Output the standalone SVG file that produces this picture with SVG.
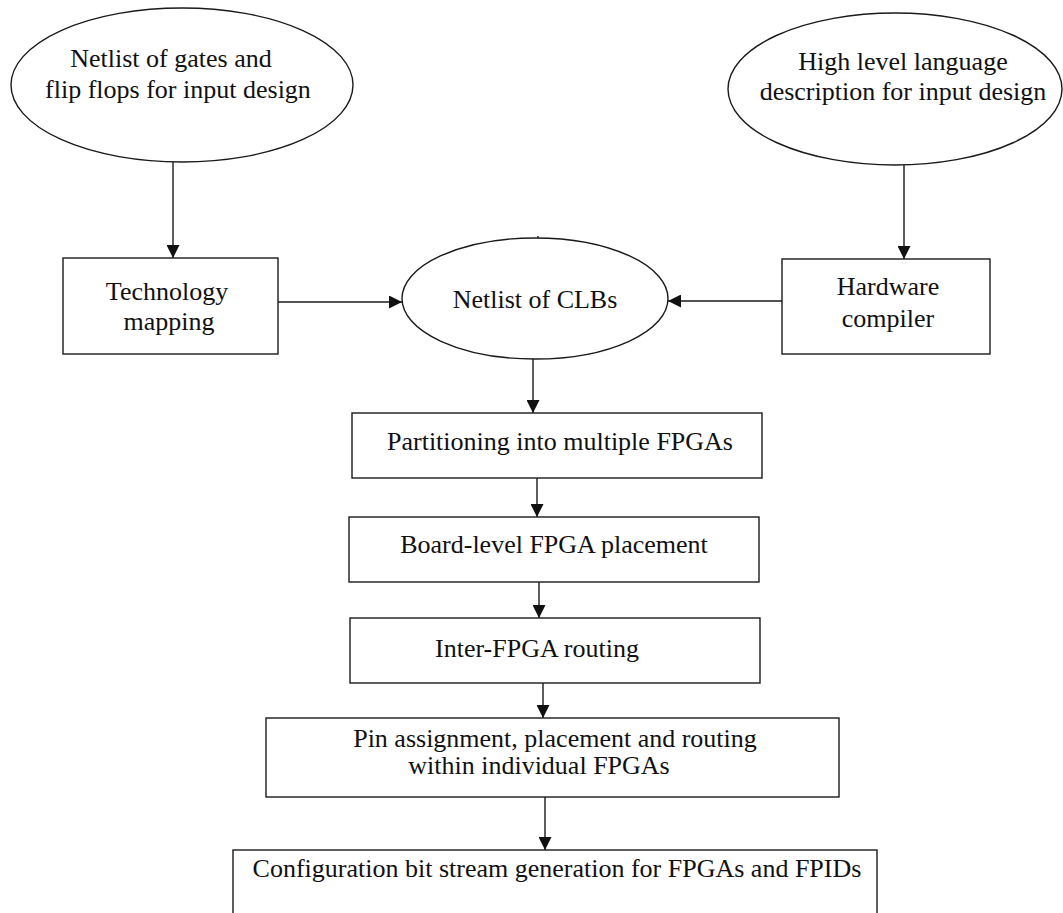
<svg xmlns="http://www.w3.org/2000/svg" width="1063" height="913" viewBox="0 0 1063 913">
  <defs>
    <style>
      .shape { fill: #ffffff; stroke: #1a1a1a; stroke-width: 1.4; }
      .label { font-family: "Liberation Serif", "Times New Roman", serif; font-size: 26px; fill: #111111; text-anchor: middle; }
      .wire { fill: none; stroke: #1a1a1a; stroke-width: 1.4; }
    </style>
    <marker id="arrow" viewBox="0 0 13 13" refX="13" refY="6.5" markerWidth="13" markerHeight="13" markerUnits="userSpaceOnUse" orient="auto">
      <path d="M0,0 L13,6.5 L0,13 Z" fill="#111111"/>
    </marker>
  </defs>
  <rect width="1063" height="913" fill="#ffffff"/>

  <!-- flow connectors -->
  <g id="connectors">
    <line class="wire" x1="173" y1="162" x2="173" y2="258" marker-end="url(#arrow)"/>
    <line class="wire" x1="904" y1="165" x2="904" y2="259" marker-end="url(#arrow)"/>
    <line class="wire" x1="278" y1="302" x2="402" y2="302" marker-end="url(#arrow)"/>
    <line class="wire" x1="782" y1="301" x2="668" y2="301" marker-end="url(#arrow)"/>
    <line class="wire" x1="538" y1="236" x2="538" y2="240"/>
    <line class="wire" x1="533" y1="359" x2="533" y2="413" marker-end="url(#arrow)"/>
    <line class="wire" x1="537" y1="478" x2="537" y2="517" marker-end="url(#arrow)"/>
    <line class="wire" x1="539" y1="582" x2="539" y2="618" marker-end="url(#arrow)"/>
    <line class="wire" x1="543" y1="683" x2="543" y2="718" marker-end="url(#arrow)"/>
    <line class="wire" x1="545" y1="797" x2="545" y2="850" marker-end="url(#arrow)"/>
  </g>

  <g id="gate-netlist">
    <ellipse class="shape" cx="182" cy="85" rx="171" ry="77"/>
    <text class="label" x="171" y="67">Netlist of gates and</text>
    <text class="label" x="178" y="98">flip flops for input design</text>
  </g>

  <g id="hll-description">
    <ellipse class="shape" cx="895" cy="89" rx="167" ry="76"/>
    <text class="label" x="903" y="70">High level language</text>
    <text class="label" x="903" y="100">description for input design</text>
  </g>

  <g id="tech-mapping">
    <rect class="shape" x="63" y="258" width="215" height="96"/>
    <text class="label" x="167" y="300">Technology</text>
    <text class="label" x="169" y="330">mapping</text>
  </g>

  <g id="clb-netlist">
    <ellipse class="shape" cx="535" cy="298.5" rx="133" ry="60.5"/>
    <text class="label" x="535" y="308">Netlist of CLBs</text>
  </g>

  <g id="hw-compiler">
    <rect class="shape" x="782" y="259" width="208" height="95"/>
    <text class="label" x="888" y="295">Hardware</text>
    <text class="label" x="888" y="327">compiler</text>
  </g>

  <g id="partitioning">
    <rect class="shape" x="352" y="413" width="410" height="65"/>
    <text class="label" x="560" y="450">Partitioning into multiple FPGAs</text>
  </g>

  <g id="board-placement">
    <rect class="shape" x="349" y="517" width="410" height="65"/>
    <text class="label" x="554" y="553">Board-level FPGA placement</text>
  </g>

  <g id="inter-routing">
    <rect class="shape" x="350" y="618" width="410" height="65"/>
    <text class="label" x="537" y="657">Inter-FPGA routing</text>
  </g>

  <g id="pin-place-route">
    <rect class="shape" x="266" y="718" width="573" height="79"/>
    <text class="label" x="555" y="747">Pin assignment, placement and routing</text>
    <text class="label" x="539" y="774">within individual FPGAs</text>
  </g>

  <g id="bitstream">
    <rect class="shape" x="233" y="850" width="644" height="90"/>
    <text class="label" x="557" y="877">Configuration bit stream generation for FPGAs and FPIDs</text>
  </g>
</svg>
